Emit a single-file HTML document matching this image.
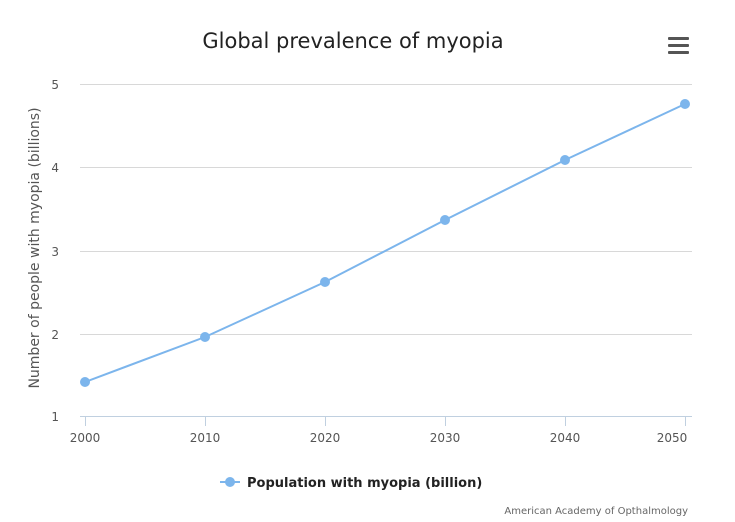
<!DOCTYPE html>
<html><head><style>body{margin:0;background:#fff}svg{display:block}text{font-family:"DejaVu Sans","Liberation Sans",sans-serif}</style></head>
<body>
<svg width="735" height="522" viewBox="0 0 735 522" xmlns="http://www.w3.org/2000/svg">
<rect width="735" height="522" fill="#fff"/>
<text x="353" y="48" text-anchor="middle" font-size="21" fill="#222">Global prevalence of myopia</text>
<g fill="#555"><rect x="668" y="37" width="21" height="3" rx="1"/><rect x="668" y="44" width="21" height="3" rx="1"/><rect x="668" y="51" width="21" height="3" rx="1"/></g>
<g stroke="#d8d8d8" stroke-width="1">
<line x1="80" y1="84.5" x2="692" y2="84.5"/><line x1="80" y1="167.5" x2="692" y2="167.5"/><line x1="80" y1="251.5" x2="692" y2="251.5"/><line x1="80" y1="334.5" x2="692" y2="334.5"/>
</g>
<line x1="80" y1="416.5" x2="692" y2="416.5" stroke="#c0d0e0"/>
<g stroke="#c0d0e0"><line x1="85.5" y1="416" x2="85.5" y2="426"/><line x1="205.5" y1="416" x2="205.5" y2="426"/><line x1="325.5" y1="416" x2="325.5" y2="426"/><line x1="445.5" y1="416" x2="445.5" y2="426"/><line x1="565.5" y1="416" x2="565.5" y2="426"/><line x1="685.5" y1="416" x2="685.5" y2="426"/></g>
<g font-size="12" fill="#555" text-anchor="end">
<text x="59" y="89">5</text><text x="59" y="172">4</text><text x="59" y="256">3</text><text x="59" y="339">2</text><text x="59" y="421">1</text></g>
<g font-size="12" fill="#555" text-anchor="middle">
<text x="85" y="442">2000</text><text x="205" y="442">2010</text><text x="325" y="442">2020</text><text x="445" y="442">2030</text><text x="565" y="442">2040</text><text x="672" y="442">2050</text></g>
<text transform="translate(39,248) rotate(-90)" text-anchor="middle" font-size="14" fill="#555">Number of people with myopia (billions)</text>
<polyline points="85,382 205,337 325,282 445,220 565,160 685,104" fill="none" stroke="#7cb5ec" stroke-width="2"/>
<g fill="#7cb5ec"><circle cx="85" cy="382" r="5"/><circle cx="205" cy="337" r="5"/><circle cx="325" cy="282" r="5"/><circle cx="445" cy="220" r="5"/><circle cx="565" cy="160" r="5"/><circle cx="685" cy="104" r="5"/></g>
<line x1="220" y1="482" x2="240" y2="482" stroke="#7cb5ec" stroke-width="2"/><circle cx="230" cy="482" r="5" fill="#7cb5ec"/>
<text x="247" y="487" font-size="13" font-weight="bold" fill="#222">Population with myopia (billion)</text>
<text x="688" y="514" text-anchor="end" font-size="10" fill="#666">American Academy of Opthalmology</text>
</svg>
</body></html>
